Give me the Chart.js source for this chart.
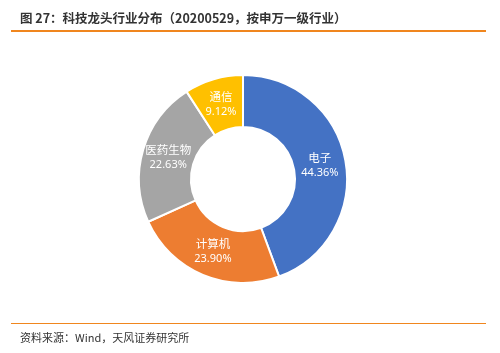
<!DOCTYPE html>
<html><head><meta charset="utf-8">
<script src="https://cdn.jsdelivr.net/npm/chart.js@4"></script>
<style>
html,body{margin:0;padding:0;background:#fff;width:500px;height:353px;overflow:hidden;font-family:"Noto Sans CJK SC","Noto Sans",sans-serif;}
#title{position:absolute;left:20px;top:8px;font-size:12.5px;color:#333;font-weight:bold;white-space:nowrap;line-height:20px;}
#topline{position:absolute;left:11px;top:30px;width:475px;height:2px;background:#F0861E;}
#botline{position:absolute;left:11px;top:323px;width:475px;height:1px;background:#F0861E;}
#source{position:absolute;left:20px;top:329px;font-size:11px;color:#333;white-space:nowrap;line-height:16px;}
#wrap{position:absolute;left:0;top:0;width:500px;height:353px;}
</style></head>
<body>
<div id="wrap"><canvas id="c" width="500" height="353"></canvas></div>
<div id="title">图 27：科技龙头行业分布（20200529，按申万一级行业）</div>
<div id="topline"></div>
<div id="botline"></div>
<div id="source">资料来源：Wind，天风证券研究所</div>
<script>
const categories = ["电子", "计算机", "医药生物", "通信"];
const shares = [44.36, 23.90, 22.63, 9.12];
const pctLabels = ["44.36%", "23.90%", "22.63%", "9.12%"];
const colors = ["#4472C4", "#ED7D31", "#A5A5A5", "#FFC000"];

const labelPlugin = {
  id: 'sliceLabels',
  afterDatasetsDraw(chart) {
    const ctx = chart.ctx;
    const meta = chart.getDatasetMeta(0);
    ctx.save();
    ctx.fillStyle = '#fff';
    ctx.textAlign = 'center';
    ctx.textBaseline = 'middle';
    meta.data.forEach((arc, i) => {
      const p = arc.tooltipPosition();
      ctx.font = '11.5px "Noto Sans CJK SC", sans-serif';
      ctx.fillText(categories[i], p.x, p.y - 7.5);
      ctx.font = '11px "Noto Sans", sans-serif';
      ctx.fillText(pctLabels[i], p.x, p.y + 8);
    });
    ctx.restore();
  }
};

new Chart(document.getElementById('c'), {
  type: 'doughnut',
  data: {
    labels: categories,
    datasets: [{
      data: shares,
      backgroundColor: colors,
      borderColor: '#fff',
      borderWidth: 2,
      hoverOffset: 0,
      radius: 104,
      cutout: '50%'
    }]
  },
  options: {
    responsive: false,
    animation: false,
    layout: { padding: { left: 0, right: 14, top: 47, bottom: 42 } },
    plugins: { legend: { display: false }, tooltip: { enabled: false } }
  },
  plugins: [labelPlugin]
});
</script>
</body></html>
